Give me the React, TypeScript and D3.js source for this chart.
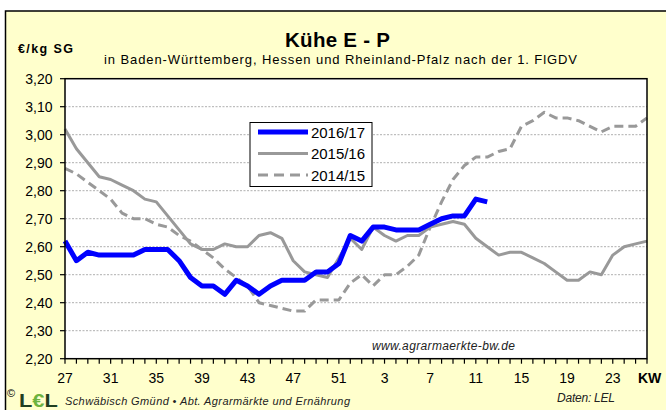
import React from "react";
import * as d3 from "d3";

const weeks = [27,28,29,30,31,32,33,34,35,36,37,38,39,40,41,42,43,44,45,46,47,48,49,50,51,52,1,2,3,4,5,6,7,8,9,10,11,12,13,14,15,16,17,18,19,20,21,22,23,24,25,26];
const weekLabels = [27,31,35,39,43,47,51,3,7,11,15,19,23];
const yTicks = [2.2,2.3,2.4,2.5,2.6,2.7,2.8,2.9,3.0,3.1,3.2];

const s2016 = [2.62,2.55,2.58,2.57,2.57,2.57,2.57,2.59,2.59,2.59,2.55,2.49,2.46,2.46,2.43,2.48,2.46,2.43,2.46,2.48,2.48,2.48,2.51,2.51,2.54,2.64,2.62,2.67,2.67,2.66,2.66,2.66,2.68,2.70,2.71,2.71,2.77,2.76];
const s2015 = [3.02,2.95,2.90,2.85,2.84,2.82,2.80,2.77,2.76,2.71,2.66,2.61,2.59,2.59,2.61,2.60,2.60,2.64,2.65,2.63,2.55,2.51,2.50,2.49,2.56,2.63,2.59,2.67,2.64,2.62,2.64,2.64,2.67,2.68,2.69,2.68,2.63,2.60,2.57,2.58,2.58,2.56,2.54,2.51,2.48,2.48,2.51,2.50,2.57,2.60,2.61,2.62];
const s2014 = [2.88,2.86,2.83,2.80,2.77,2.72,2.70,2.70,2.68,2.67,2.64,2.62,2.59,2.56,2.52,2.49,2.46,2.40,2.39,2.38,2.37,2.37,2.41,2.41,2.41,2.47,2.50,2.46,2.50,2.50,2.53,2.57,2.67,2.76,2.84,2.89,2.92,2.92,2.94,2.95,3.03,3.05,3.08,3.06,3.06,3.05,3.03,3.01,3.03,3.03,3.03,3.06];

const seriesNames = ["2016/17", "2015/16", "2014/15"];

export default function App() {
  const left = 65, right = 647, top = 78.7, bottom = 358.7;
  const x = d3.scaleLinear().domain([0, weeks.length - 1]).range([left, right]);
  const y = d3.scaleLinear().domain([2.2, 3.2]).range([bottom, top]);
  const line = d3.line<number>().x((_, i) => x(i)).y((d) => y(d));
  const fmt = (v: number) => v.toFixed(2).replace(".", ",");
  const font = "Liberation Sans, Arial, sans-serif";
  const gray = "#999999";
  const series = [
    { name: seriesNames[0], data: s2016, color: "#0000FF", width: 5, dash: undefined as string | undefined },
    { name: seriesNames[1], data: s2015, color: gray, width: 3, dash: undefined as string | undefined },
    { name: seriesNames[2], data: s2014, color: gray, width: 3, dash: "9,5" },
  ];
  const drawOrder = [series[2], series[1], series[0]];
  return (
    <svg width={666} height={410} style={{ position: "absolute", left: 0, top: 0 }} fontFamily={font}>
      <rect x={0} y={0} width={666} height={410} fill="#ffffff" />
      <rect x={5.5} y={11} width={670} height={410} fill="#FFFFCC" stroke="#000" strokeWidth={1.5} />
      <text x={285} y={46.5} fontSize={20.5} fontWeight="bold" textLength={105} lengthAdjust="spacing">Kühe E - P</text>
      <text x={18} y={53} fontSize={12.5} fontWeight="bold" textLength={55} lengthAdjust="spacing">€/kg SG</text>
      <text x={104} y={64} fontSize={13} textLength={473} lengthAdjust="spacing">in Baden-Württemberg, Hessen und Rheinland-Pfalz nach der 1. FlGDV</text>
      <rect x={left} y={top} width={right - left} height={bottom - top} fill="#fff" />
      {yTicks.slice(1, -1).map((t) => (
        <line key={"g" + t} x1={left} x2={right} y1={y(t)} y2={y(t)} stroke="#999" strokeWidth={0.8} strokeDasharray="2,1.5" />
      ))}
      {yTicks.map((t) => (
        <g key={"y" + t}>
          <line x1={left - 5} x2={left} y1={y(t)} y2={y(t)} stroke="#000" strokeWidth={1.2} />
          <text x={52.5} y={y(t) + 5} textAnchor="end" fontSize={14}>{fmt(t)}</text>
        </g>
      ))}
      {weeks.map((w, i) => (
        <line key={"xt" + i} x1={x(i)} x2={x(i)} y1={bottom} y2={bottom + 5} stroke="#000" strokeWidth={1.2} />
      ))}
      {weekLabels.map((w) => (
        <text key={"xl" + w} x={x(weeks.indexOf(w))} y={382.5} textAnchor="middle" fontSize={14}>{w}</text>
      ))}
      <text x={638} y={382.5} fontSize={14} fontWeight="bold">KW</text>
      {drawOrder.map((s) => (
        <path key={s.name} d={line(s.data) || ""} fill="none" stroke={s.color} strokeWidth={s.width} strokeDasharray={s.dash} strokeLinejoin="round" />
      ))}
      <rect x={left} y={top} width={right - left} height={bottom - top} fill="none" stroke="#000" strokeWidth={1.5} />
      <rect x={250} y={122.5} width={122} height={64} fill="#fff" stroke="#000" strokeWidth={1} />
      {series.map((s, k) => (
        <g key={"lg" + s.name}>
          <line x1={258} x2={308} y1={132 + k * 21.5} y2={132 + k * 21.5} stroke={s.color} strokeWidth={s.width} strokeDasharray={s.dash ? "10,6" : undefined} />
          <text x={311} y={137.5 + k * 21.5} fontSize={15} textLength={54} lengthAdjust="spacing">{s.name}</text>
        </g>
      ))}
      <text x={372} y={349.5} fontSize={12} fontStyle="italic" fill="#222" textLength={143} lengthAdjust="spacing">www.agrarmaerkte-bw.de</text>
      <text x={557} y={401.5} fontSize={12} fontStyle="italic" fill="#222" textLength={58} lengthAdjust="spacing">Daten: LEL</text>
      <text x={7} y={397} fontSize={11}>©</text>
      <g transform="translate(19,407) scale(1.15,1)">
        <text x={0} y={0} fontSize={19} fontWeight="bold">
          <tspan fill="#1f3f1f">L</tspan>
          <tspan fill="#6db33f">€</tspan>
          <tspan fill="#1f3f1f">L</tspan>
        </text>
      </g>
      <text x={65} y={405} fontSize={11} fontStyle="italic" fill="#222" textLength={285} lengthAdjust="spacing">Schwäbisch Gmünd • Abt. Agrarmärkte und Ernährung</text>
    </svg>
  );
}
